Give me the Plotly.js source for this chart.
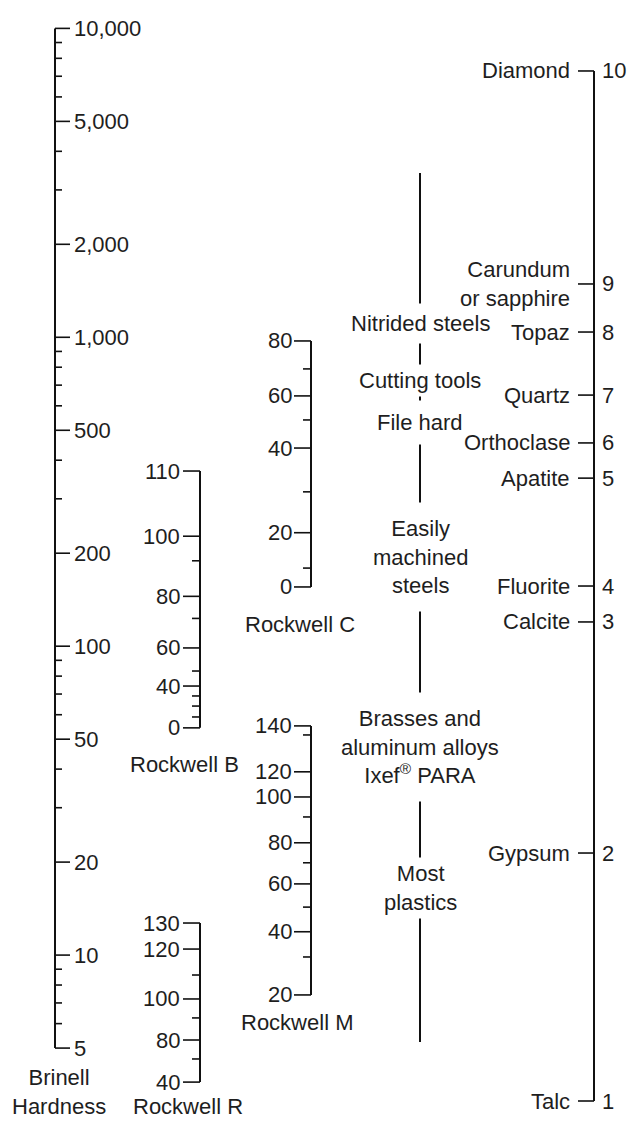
<!DOCTYPE html>
<html><head><meta charset="utf-8">
<script src="https://cdn.plot.ly/plotly-3.0.1.min.js"></script>
<style>html,body{margin:0;padding:0;background:#fff}#chart{width:642px;height:1121px}</style>
</head><body><div id="chart"></div>
<script>
// ---------------- DATA ----------------
// Brinell hardness scale (the common vertical axis, log)
const brinellMajor = [10000, 5000, 2000, 1000, 500, 200, 100, 50, 20, 10, 5];
const brinellMajorLabels = ['10,000', '5,000', '2,000', '1,000', '500', '200', '100', '50', '20', '10', '5'];
const brinellMinor = [9000, 8000, 7000, 6000, 4000, 3000, 900, 800, 700, 600, 400, 300, 90, 80, 70, 60, 40, 30, 9, 8, 7, 6];

// Rockwell scales: tick values, labels, and equivalent Brinell hardness
const rockwellCValues = [80, 70, 60, 50, 40, 30, 20, 10, 0];
const rockwellCLabels = ['80', '', '60', '', '40', '', '20', '', '0'];
const rockwellCBrinell = [973, 790, 646, 540, 438, 316, 233, 179, 155.5];

const rockwellBValues = [110, 100, 90, 80, 70, 60, 50, 40, 30, 20, 10, 0];
const rockwellBLabels = ['110', '100', '', '80', '', '60', '', '40', '', '', '', '0'];
const rockwellBBrinell = [369, 227, 189, 145, 123, 98.7, 83.1, 74.3, 69.0, 64.0, 59.0, 54.4];

const rockwellMValues = [140, 130, 120, 100, 90, 80, 70, 60, 50, 40, 30, 20];
const rockwellMLabels = ['140', '', '120', '100', '', '80', '', '60', '', '40', '', '20'];
const rockwellMBrinell = [55.2, 51.6, 39.2, 32.5, 28.0, 23.1, 19.9, 17.0, 14.3, 11.9, 9.86, 7.43];

const rockwellRValues = [130, 120, 110, 100, 90, 80, 60, 40];
const rockwellRLabels = ['130', '120', '', '100', '', '80', '', '40'];
const rockwellRBrinell = [12.7, 10.46, 8.62, 7.21, 6.26, 5.31, 4.61, 3.88];

// Mohs scale
const mohsValues = [10, 9, 8, 7, 6, 5, 4, 3, 2, 1];
const mohsMinerals = ['Diamond', 'Carundum<br>or sapphire', 'Topaz', 'Quartz', 'Orthoclase', 'Apatite', 'Fluorite', 'Calcite', 'Gypsum', 'Talc'];
const mohsBrinell = [7280, 1488, 1040, 650, 455, 350, 156.6, 119.8, 21.4, 3.37];

// Typical materials (equivalent Brinell hardness)
const materialNames = ['Nitrided steels', 'Cutting tools', 'File hard', 'Easily<br>machined<br>steels',
  'Brasses and<br>aluminum alloys<br>Ixef<sup>®</sup> PARA', 'Most<br>plastics'];
const materialBrinell = [1112, 727, 528, 194.5, 47.2, 16.5];
const materialSpan = [3403, 5.23];

// ---------------- STYLE / LAYOUT ----------------
const FONT = {family: 'Liberation Sans, Arial, Helvetica, sans-serif', size: 22, color: '#1e1e1e'};
const LINE = '#111';
const materialPad = [7, 3, 9, 13, 13, 3];
const L = Math.log10;

const traces = [];
const annotations = [];

function addLine(xs, ys, w) {
  traces.push({type: 'scatter', mode: 'lines', x: xs, y: ys, line: {color: LINE, width: w},
    hoverinfo: 'skip', showlegend: false, cliponaxis: false});
}

function ann(text, x, yVal, xanchor, extra) {
  annotations.push(Object.assign({text: text, x: x, y: L(yVal), xref: 'x', yref: 'y',
    xanchor: xanchor, yanchor: 'middle', showarrow: false, font: FONT, borderpad: 1}, extra || {}));
}

// Materials column (first, so neighbouring labels are drawn above its white boxes)
(function () {
  const sx = 420;
  addLine([sx, sx], materialSpan, 2);
  materialBrinell.forEach((v, i) => ann(materialNames[i], sx, v, 'center',
    {bgcolor: '#ffffff', borderpad: materialPad[i], align: 'center'}));
})();

// Brinell scale (ticks on the right)
(function () {
  const sx = 55;
  const bottom = brinellMajor[brinellMajor.length - 1];
  addLine([sx, sx], [brinellMajor[0], bottom], 2);
  const tx = [], ty = [];
  brinellMajor.forEach(v => { tx.push(sx, sx + 15, null); ty.push(v, v, null); });
  brinellMinor.forEach(v => { tx.push(sx, sx + 7, null); ty.push(v, v, null); });
  addLine(tx, ty, 1.6);
  brinellMajor.forEach((v, i) => ann(brinellMajorLabels[i], 72, v, 'left'));
  ann('Brinell<br>Hardness', 59, bottom, 'center', {yshift: -44, borderpad: 0, align: 'center'});
})();

// Rockwell scales (ticks on the left)
function rockwell(values, labels, hb, sx, labelX, title, titleX, titleShift) {
  addLine([sx, sx], [hb[0], hb[hb.length - 1]], 2);
  const tx = [], ty = [];
  hb.forEach((v, i) => {
    const len = labels[i] ? 17 : 8;
    tx.push(sx - len, sx, null); ty.push(v, v, null);
    if (labels[i]) ann(labels[i], labelX, v, 'right');
  });
  addLine(tx, ty, 1.6);
  ann(title, titleX, hb[hb.length - 1], 'center', {yshift: titleShift, borderpad: 0});
}
rockwell(rockwellCValues, rockwellCLabels, rockwellCBrinell, 311, 294, 'Rockwell C', 300, -38);
rockwell(rockwellBValues, rockwellBLabels, rockwellBBrinell, 200, 182, 'Rockwell B', 184, -37);
rockwell(rockwellMValues, rockwellMLabels, rockwellMBrinell, 311, 294, 'Rockwell M', 297, -28);
rockwell(rockwellRValues, rockwellRLabels, rockwellRBrinell, 200, 182, 'Rockwell R', 188, -24);

// Mohs scale
(function () {
  const sx = 594;
  addLine([sx, sx], [mohsBrinell[0], mohsBrinell[mohsBrinell.length - 1]], 2);
  const tx = [], ty = [];
  mohsBrinell.forEach((v, i) => {
    tx.push(sx - 16, sx, null); ty.push(v, v, null);
    ann(mohsMinerals[i], 572, v, 'right', {align: 'right'});
    ann(String(mohsValues[i]), 600, v, 'left');
  });
  addLine(tx, ty, 1.6);
})();

const layout = {
  width: 642, height: 1121,
  margin: {l: 0, r: 0, t: 0, b: 0, pad: 0},
  paper_bgcolor: '#fff', plot_bgcolor: '#fff',
  xaxis: {range: [0, 642], visible: false, fixedrange: true},
  yaxis: {type: 'log', range: [0.4629, 4.0919], visible: false, fixedrange: true},
  annotations: annotations,
  showlegend: false,
  hovermode: false
};
Plotly.newPlot('chart', traces, layout, {staticPlot: true, displayModeBar: false});
</script></body></html>
